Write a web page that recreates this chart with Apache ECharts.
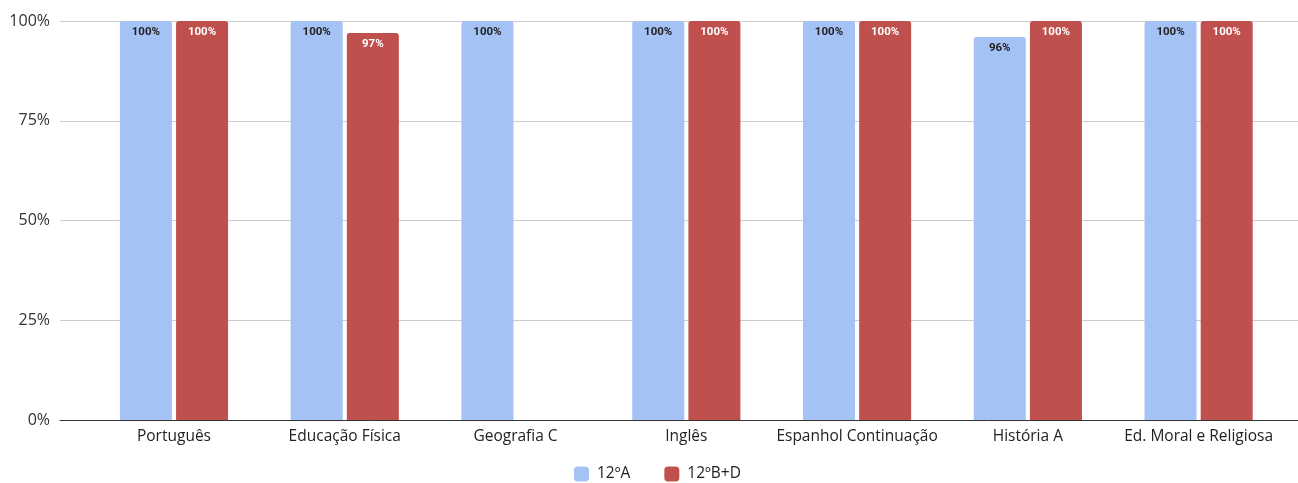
<!DOCTYPE html>
<html>
<head>
<meta charset="utf-8">
<script src="https://cdn.jsdelivr.net/npm/echarts@6/dist/echarts.min.js"></script>
<style>html,body{margin:0;padding:0;background:#fff}#c{width:1298px;height:483px}</style>
</head>
<body>
<div id="c"></div>
<script>
const categories = ["Português", "Educação Física", "Geografia C", "Inglês", "Espanhol Continuação", "História A", "Ed. Moral e Religiosa"];
const seriesNames = ["12ºA", "12ºB+D"];
const valuesA = [100, 100, 100, 100, 100, 96, 100];
const valuesBD = [100, 97, null, 100, 100, 100, 100];
const yTicks = [0, 25, 50, 75, 100];

const FONT = "Open Sans";
const chart = echarts.init(document.getElementById('c'));
chart.setOption({
  animation: false,
  textStyle: { fontFamily: FONT },
  legend: {
    top: 466, left: 574,
    padding: 0,
    itemWidth: 15, itemHeight: 15, itemGap: 34,
    icon: 'roundRect',
    textStyle: { fontSize: 15.5, color: '#222', fontFamily: FONT, padding: [0, 0, 0, 3] },
    data: seriesNames
  },
  grid: [
    { left: 60, right: 0, top: 21, bottom: 63 },
    { left: 88.6, width: 1195.4, top: 21, bottom: 63 }
  ],
  xAxis: [
    { type: 'category', gridIndex: 0, data: [''], axisLine: { lineStyle: { color: '#333', width: 1 } }, axisTick: { show: false }, axisLabel: { show: false } },
    { type: 'category', gridIndex: 1, data: categories, axisLine: { show: false }, axisTick: { show: false },
      axisLabel: { interval: 0, fontSize: 15.5, color: '#222', margin: 9, fontFamily: FONT } }
  ],
  yAxis: [
    { type: 'value', gridIndex: 0, min: 0, max: 100, interval: 25,
      axisLabel: { formatter: v => yTicks.includes(v) ? v + '%' : '', fontSize: 16, color: '#333', margin: 10, fontFamily: FONT },
      splitLine: { lineStyle: { color: '#ccc' } }, axisLine: { show: false }, axisTick: { show: false } },
    { type: 'value', gridIndex: 1, min: 0, max: 100, show: false, splitLine: { show: false } }
  ],
  series: [
    { name: seriesNames[0], type: 'bar', xAxisIndex: 1, yAxisIndex: 1, data: valuesA,
      barWidth: 52, barGap: '8%',
      itemStyle: { color: '#a4c2f4', borderRadius: [3, 3, 0, 0] },
      label: { show: true, position: 'insideTop', distance: 5, formatter: p => p.value + '%', fontSize: 11.5, fontWeight: 'bold', color: '#222', fontFamily: 'Roboto' } },
    { name: seriesNames[1], type: 'bar', xAxisIndex: 1, yAxisIndex: 1, data: valuesBD,
      barWidth: 52, barGap: '8%',
      itemStyle: { color: '#c0504d', borderRadius: [3, 3, 0, 0] },
      label: { show: true, position: 'insideTop', distance: 5, formatter: p => p.value + '%', fontSize: 11.5, fontWeight: 'bold', color: '#fff', fontFamily: 'Roboto' } }
  ]
});
</script>
</body>
</html>
